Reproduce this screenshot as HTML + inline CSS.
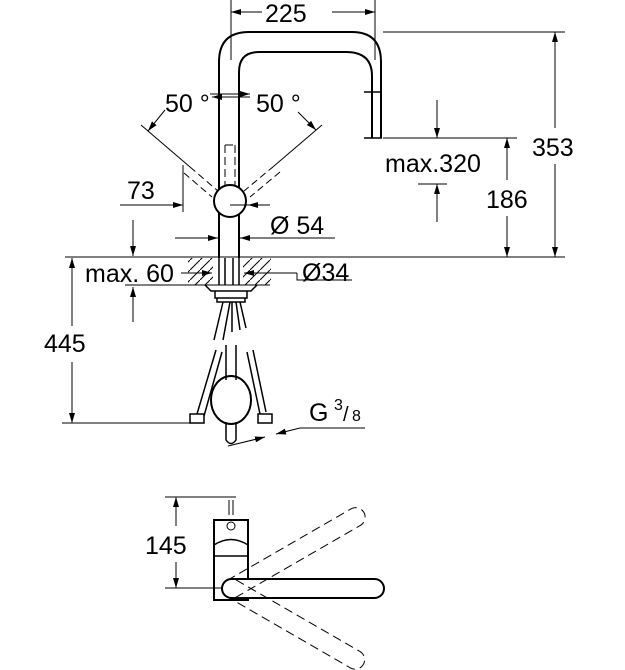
<!DOCTYPE html><html><head><style>body{margin:0;background:#fff}svg{display:block}text{font-family:"Liberation Sans",sans-serif;fill:#000}</style></head><body>
<svg width="625" height="670" viewBox="0 0 625 670" xmlns="http://www.w3.org/2000/svg">
<defs><marker id="a" viewBox="0 0 10 6" refX="10" refY="3" markerWidth="10" markerHeight="6" orient="auto-start-reverse" markerUnits="userSpaceOnUse"><path d="M0 0L10 3L0 6z"/></marker>
<pattern id="h" width="10" height="10" patternUnits="userSpaceOnUse"><path d="M0 10L10 0" stroke="#000" stroke-width="1"/></pattern></defs>
<g stroke="#000" fill="none" stroke-width="1">
<line x1="231" y1="0" x2="231" y2="60"/><line x1="375" y1="0" x2="375" y2="60"/>
<line x1="231" y1="12" x2="262" y2="12" marker-start="url(#a)"/><line x1="332" y1="12" x2="375" y2="12" marker-end="url(#a)"/>
<g stroke-width="2"><path d="M219 258V62Q219 32 249 32H352Q381 32 381 62V138"/><path d="M239 258V72Q239 52 259 52H346Q372 52 372 76V138"/></g>
<path d="M364 138H382M364 92H382" stroke-width="1.5"/>
<line x1="383" y1="32" x2="565" y2="32"/><line x1="383" y1="138" x2="517" y2="138"/>
<line x1="555" y1="32" x2="555" y2="128" marker-start="url(#a)"/><line x1="555" y1="164" x2="555" y2="257" marker-end="url(#a)"/>
<line x1="507" y1="138" x2="507" y2="180" marker-start="url(#a)"/><line x1="507" y1="216" x2="507" y2="257" marker-end="url(#a)"/>
<line x1="437" y1="100" x2="437" y2="138" marker-end="url(#a)"/><line x1="418" y1="184" x2="447" y2="184"/><line x1="437" y1="222" x2="437" y2="184" marker-end="url(#a)"/>
<line x1="65" y1="257" x2="565" y2="257"/>
<circle cx="230" cy="201" r="16" stroke-width="2" fill="#fff"/>
<path d="M225 145V185M235 145V185M225 145H235" stroke-dasharray="8 4"/>
<line x1="141" y1="125" x2="190" y2="167"/><path d="M190 167L218 191M184 173L212 197" stroke-dasharray="7 4"/>
<line x1="322" y1="125" x2="274" y2="166"/><path d="M274 166L244 191M280 172L250 197" stroke-dasharray="7 4"/>
<line x1="210" y1="94" x2="250" y2="94" marker-end="url(#a)"/><line x1="250" y1="97" x2="212" y2="97" marker-end="url(#a)"/>
<line x1="165" y1="110" x2="148" y2="131" marker-end="url(#a)"/><line x1="298" y1="112" x2="316" y2="130" marker-end="url(#a)"/>
<line x1="183" y1="165" x2="183" y2="212"/><line x1="120" y1="205" x2="183" y2="205" marker-end="url(#a)"/>
<line x1="230" y1="205" x2="250" y2="205"/><line x1="270" y1="205" x2="248" y2="205" marker-end="url(#a)"/>
<line x1="175" y1="238" x2="218" y2="238" marker-end="url(#a)"/><line x1="335" y1="238" x2="240" y2="238" marker-end="url(#a)"/>
<line x1="133" y1="220" x2="133" y2="256" marker-end="url(#a)"/>
<rect x="188" y="258" width="25" height="27" fill="url(#h)" stroke="none"/><rect x="243" y="258" width="28" height="27" fill="url(#h)" stroke="none"/>
<line x1="125" y1="285" x2="270" y2="285"/>
<path d="M219 258V285M239 258V285M225 258V285M233 258V285" stroke-width="1.5"/>
<line x1="181" y1="273" x2="212" y2="273" marker-end="url(#a)"/><line x1="297" y1="273" x2="244" y2="273" marker-end="url(#a)"/><path d="M297 273V280H352"/>
<line x1="133" y1="322" x2="133" y2="287" marker-end="url(#a)"/>
<path d="M205 285L211 291H251L257 285M215 291V298H247V291M217 298V302H245V298" stroke-width="1.5"/>
<path d="M223 302L214 340M230 302L223 340M232 302V332M240 302L246 328M236 302L240 330" stroke-width="1.5"/>
<path d="M216 350L197 414M222 352L204 416M253 350L266 412M247 352L260 414" stroke-width="1.5"/>
<path d="M226 345V380M236 345V380" stroke-width="1.5"/>
<ellipse cx="231" cy="400" rx="20" ry="24" stroke-width="2"/>
<path d="M226 422V440Q231 447 236 440V422" stroke-width="1.5"/>
<rect x="190" y="414" width="14" height="9" stroke-width="1.5"/><rect x="258" y="414" width="14" height="9" stroke-width="1.5"/>
<line x1="72" y1="258" x2="72" y2="326" marker-start="url(#a)"/><line x1="72" y1="362" x2="72" y2="423" marker-end="url(#a)"/>
<line x1="62" y1="423" x2="196" y2="423"/>
<path d="M300 428H365"/><line x1="300" y1="428" x2="276" y2="434" marker-end="url(#a)"/><line x1="228" y1="446" x2="265" y2="437" marker-end="url(#a)"/>
<line x1="165" y1="497" x2="236" y2="497"/><line x1="165" y1="588" x2="240" y2="588"/>
<line x1="176" y1="497" x2="176" y2="526" marker-start="url(#a)"/><line x1="176" y1="562" x2="176" y2="588" marker-end="url(#a)"/>
<rect x="214" y="520" width="34" height="80" stroke-width="2"/>
<path d="M214 545Q231 534 248 545M214 556H248" stroke-width="1.5"/>
<circle cx="231" cy="526" r="4"/><path d="M229 500V515M233 500V515"/>
<rect x="222" y="579" width="162" height="19" rx="9.5" stroke-width="2" fill="#fff"/>
<g stroke-dasharray="9 5"><g transform="rotate(-30 232 588)"><rect x="222" y="579" width="162" height="19" rx="9.5"/></g><g transform="rotate(30 232 588)"><rect x="222" y="579" width="162" height="19" rx="9.5"/></g></g>
</g>
<g font-size="25">
<text x="265" y="22">225</text>
<text x="165" y="112">50 °</text><text x="256" y="112">50 °</text>
<text x="127" y="199">73</text>
<text x="270" y="234">Ø 54</text>
<text x="385" y="172">max.320</text>
<text x="532" y="156">353</text><text x="486" y="208">186</text>
<text x="85" y="282">max. 60</text><text x="302" y="281">Ø34</text>
<text x="44" y="352">445</text>
<text x="309" y="421">G</text><text x="334" y="410" font-size="16">3</text><text x="343" y="421" font-size="20">/</text><text x="352" y="421" font-size="16">8</text>
<text x="145" y="554">145</text>
</g>
</svg></body></html>
